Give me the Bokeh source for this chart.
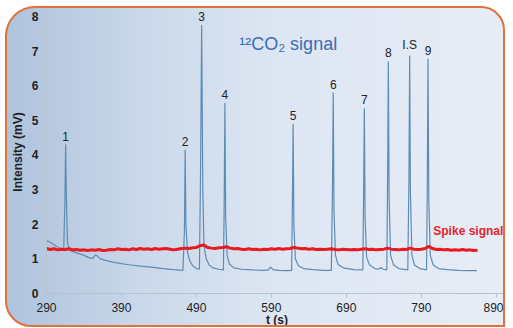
from bokeh.plotting import figure
from bokeh.models import Range1d, FixedTicker, Label, LabelSet, ColumnDataSource
from bokeh.core.properties import value
from bokeh.embed import file_html
from bokeh.resources import INLINE

# ---- data ----
peak_t = [315.5, 475, 497, 528, 619, 672.5, 714, 746, 774.5, 799]
peak_h = [4.3, 4.15, 7.75, 5.5, 4.9, 5.8, 5.35, 6.7, 6.87, 6.78]
peak_labels = ["1", "2", "3", "4", "5", "6", "7", "8", "I.S", "9"]

co2_t = [290, 293, 297, 302, 307, 311, 313, 314.5, 315.5, 316.5, 318, 321, 326, 333, 340, 348, 352, 355, 358,
         362, 370, 380, 390, 400, 415, 430, 445, 460, 472, 474, 475, 476, 478, 481, 485, 490, 494, 495.5, 497,
         498.5, 500, 503, 507, 512, 520, 526, 527, 528, 529, 531, 534, 540, 550, 565, 580, 586, 589, 592, 600,
         612, 617, 618, 619, 620, 622, 626, 633, 645, 660, 670, 671.5, 672.5, 673.5, 675.5, 679, 686, 700, 712,
         713, 714, 715, 717, 721, 728, 733, 736, 739, 744, 745, 746, 747, 749, 753, 760, 772, 773.5, 774.5,
         775.5, 777.5, 781, 788, 797, 798, 799, 800, 802, 806, 813, 825, 840, 855, 864]
co2_y = [1.52, 1.50, 1.45, 1.38, 1.32, 1.28, 1.30, 2.6, 4.3, 2.8, 1.45, 1.25, 1.20, 1.15, 1.10, 1.02, 1.02, 1.12,
         1.08, 1.00, 0.95, 0.90, 0.86, 0.83, 0.79, 0.76, 0.72, 0.69, 0.67, 1.8, 4.15, 2.0, 1.2, 0.95, 0.80, 0.72,
         0.70, 3.5, 7.75, 3.0, 1.4, 1.0, 0.82, 0.74, 0.70, 0.68, 2.5, 5.5, 2.2, 1.1, 0.85, 0.74, 0.70, 0.68, 0.67,
         0.68, 0.76, 0.69, 0.67, 0.66, 0.67, 2.5, 4.9, 2.0, 1.0, 0.80, 0.72, 0.69, 0.67, 0.67, 3.0, 5.8, 2.4, 1.1,
         0.84, 0.74, 0.69, 0.68, 2.8, 5.35, 2.2, 1.05, 0.82, 0.72, 0.70, 0.75, 0.70, 0.68, 3.2, 6.7, 2.8, 1.1,
         0.82, 0.72, 0.68, 3.3, 6.87, 2.9, 1.1, 0.82, 0.72, 0.68, 3.2, 6.78, 2.7, 1.1, 0.82, 0.72, 0.69, 0.67,
         0.66, 0.66]

spike_y = [1.30, 1.27, 1.29, 1.26, 1.28, 1.27, 1.29, 1.26, 1.27, 1.25, 1.26, 1.24, 1.26, 1.25, 1.27, 1.24,
           1.25, 1.27, 1.26, 1.29, 1.27, 1.28, 1.26, 1.29, 1.27, 1.30, 1.28, 1.29, 1.27, 1.30, 1.28, 1.29,
           1.30, 1.28, 1.26, 1.28, 1.30, 1.31, 1.30, 1.32, 1.33, 1.38, 1.40, 1.33, 1.31, 1.30, 1.32, 1.33,
           1.35, 1.31, 1.29, 1.30, 1.28, 1.27, 1.29, 1.27, 1.28, 1.26, 1.28, 1.27, 1.29, 1.28, 1.30, 1.28,
           1.29, 1.30, 1.33, 1.31, 1.29, 1.30, 1.28, 1.29, 1.27, 1.28, 1.27, 1.28, 1.29, 1.27, 1.26, 1.28,
           1.27, 1.26, 1.27, 1.26, 1.28, 1.29, 1.27, 1.28, 1.26, 1.27, 1.28, 1.31, 1.28, 1.27, 1.26, 1.28,
           1.27, 1.31, 1.28, 1.27, 1.28, 1.30, 1.36, 1.30, 1.27, 1.28, 1.26, 1.27, 1.25, 1.26, 1.25, 1.27,
           1.25, 1.26, 1.24, 1.25]
spike_t = list(range(290, 290 + 5 * len(spike_y), 5))

x_ticks = [290, 390, 490, 590, 690, 790, 890]
y_ticks = [0, 1, 2, 3, 4, 5, 6, 7, 8]

FONT = "Liberation Sans"

p = figure(width=500, height=321, output_backend="svg", toolbar_location=None,
           x_range=Range1d(290, 905), y_range=Range1d(0, 8.17),
           min_border_left=34, min_border_right=0, min_border_top=2, min_border_bottom=33)
p.border_fill_alpha = 0
p.background_fill_alpha = 0
p.outline_line_color = None
p.grid.visible = False
p.styles = {
    "border": "2px solid #e2703c",
    "border-radius": "30px 24px 0px 26px",
    "background": "linear-gradient(to right, #afc3dd 0%, #ccdaeb 30%, #dde6f3 55%, #e7edf6 100%)",
    "margin": "6px 0px 0px 5px",
}

p.xaxis.ticker = FixedTicker(ticks=x_ticks)
p.yaxis.ticker = FixedTicker(ticks=y_ticks)
p.xaxis.bounds = (290, 900)
p.yaxis.bounds = (0, 8)
for ax in (p.xaxis[0], p.yaxis[0]):
    ax.axis_line_color = "#b6c2cf"
    ax.major_tick_line_color = "#b6c2cf"
    ax.major_tick_in = 0
    ax.major_tick_out = 4
    ax.minor_tick_line_color = None
    ax.major_label_text_font = FONT
    ax.major_label_text_font_size = "12px"
    ax.major_label_text_color = "#1e1e1e"
    ax.axis_label_text_font = FONT
    ax.axis_label_text_color = "#1e1e1e"
p.yaxis.major_label_text_font_style = "bold"
p.xaxis.major_label_standoff = 5
p.yaxis.major_label_standoff = 4
p.xaxis.axis_label = "t (s)"
p.xaxis.axis_label_text_font_size = "12px"
p.xaxis.axis_label_text_font_style = "bold"
p.xaxis.axis_label_standoff = -2
p.yaxis.axis_label = "Intensity (mV)"
p.yaxis.axis_label_text_font_size = "12px"
p.yaxis.axis_label_text_font_style = "bold"
p.yaxis.axis_label_standoff = 4

p.line(co2_t, co2_y, line_color="#5f8bb2", line_width=1.2)
p.line(spike_t, spike_y, line_color="#e8191f", line_width=3)

src = ColumnDataSource(dict(x=peak_t, y=peak_h, t=peak_labels))
p.add_layout(LabelSet(x="x", y="y", text="t", source=src, text_align="center", text_baseline="bottom",
                      y_offset=4, text_font=value(FONT), text_font_size=value("12px"),
                      text_color=value("#222222")))

p.add_layout(Label(x=547, y=7.2, text="¹²CO₂ signal", text_baseline="middle",
                   text_font=FONT, text_font_size="18px", text_color="#3b6db3"))
p.add_layout(Label(x=806, y=1.8, text="Spike signal", text_baseline="middle",
                   text_font=FONT, text_font_size="12px", text_font_style="bold",
                   text_color="#e5242b"))

open("out.html", "w").write(file_html(p, INLINE))
